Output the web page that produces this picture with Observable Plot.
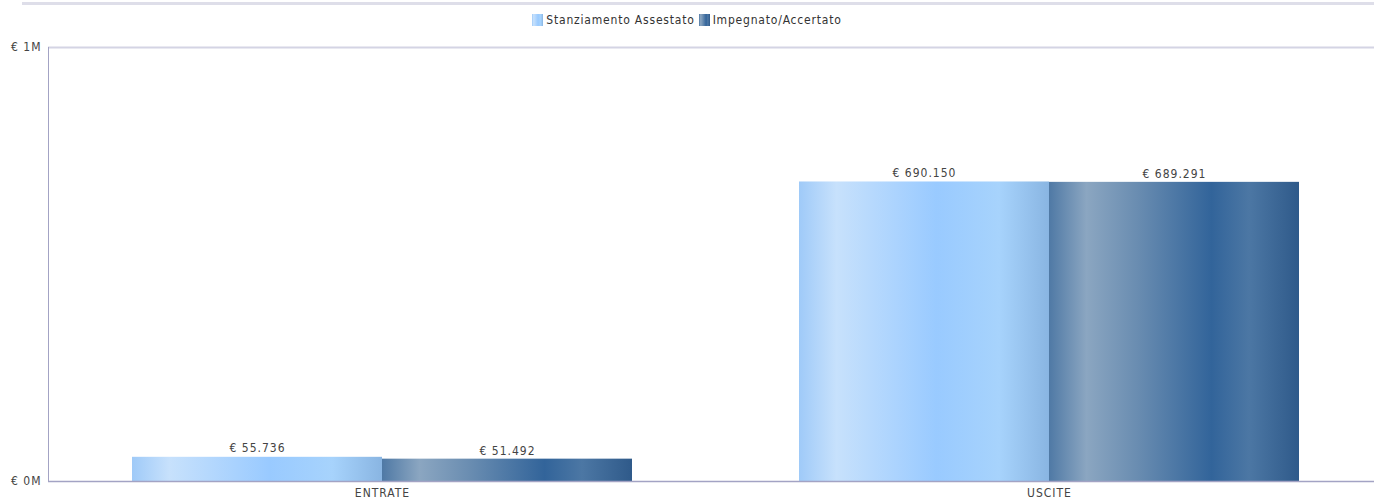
<!DOCTYPE html>
<html><head><meta charset="utf-8">
<script src="https://cdn.jsdelivr.net/npm/d3@7"></script>
<script src="https://cdn.jsdelivr.net/npm/@observablehq/plot@0.6"></script>
<style>
body{margin:0;background:#fff;font-family:"DejaVu Sans Condensed","DejaVu Sans",sans-serif;overflow:hidden;}
#top{height:32px;position:relative;}
#line{position:absolute;left:22px;right:0;top:2px;height:3px;background:#dedee9;}
#legend{position:absolute;top:12px;left:0;right:0;text-align:center;font-size:12px;color:#333;line-height:16px;white-space:nowrap;letter-spacing:0.8px;}
.sw{display:inline-block;width:11px;height:12px;vertical-align:-2px;margin-right:3px;}
.item{margin:0 2px;}
</style></head>
<body>
<div id="top"><div id="line"></div><div id="legend"></div></div>
<div id="chart"></div>
<script>
const categories = ["ENTRATE", "USCITE"];
const series = ["Stanziamento Assestato", "Impegnato/Accertato"];
const stanziamento = [55736, 690150];
const impegnato = [51492, 689291];
const yTicks = [0, 1000000];

const lightStops = [[0, "#9fcaf8"], [0.15, "#c7e1fc"], [0.55, "#99caff"], [0.8, "#a7d3fc"], [1, "#89b5e2"]];
const darkStops = [[0, "#4f79a5"], [0.15, "#8ba6c1"], [0.35, "#6a8db1"], [0.65, "#32649a"], [0.8, "#4c77a4"], [1, "#2f5a8a"]];

const rowsA = categories.map((c, i) => ({category: c, value: stanziamento[i]}));
const rowsB = categories.map((c, i) => ({category: c, value: impegnato[i]}));

const it = d3.formatLocale({decimal: ",", thousands: ".", grouping: [3], currency: ["€ ", ""]});
const fmt = v => "€ " + it.format(",.0f")(v);

const half = 250;
const font = "DejaVu Sans Condensed, DejaVu Sans, sans-serif";

const chart = Plot.plot({
  width: 1374,
  height: 470,
  marginTop: 15,
  marginBottom: 21,
  marginLeft: 48,
  marginRight: 0,
  style: {fontFamily: font, fontSize: "12px", color: "#444", background: "white", overflow: "visible", letterSpacing: "1px"},
  x: {domain: categories, range: [49, 1383], paddingInner: 0.25, paddingOuter: 0.125, label: null},
  y: {domain: [0, 1000000], range: [481 - 32, 47 - 32], label: null},
  marks: [
    Plot.ruleY([1000000], {stroke: "#d4d4e4", strokeWidth: 2}),
    Plot.barY(rowsA, {x: "category", y: "value", fill: "url(#gradLight)", insetRight: half}),
    Plot.barY(rowsB, {x: "category", y: "value", fill: "url(#gradDark)", insetLeft: half}),
    Plot.text(rowsA, {x: "category", y: "value", text: d => fmt(d.value), dx: -half / 2, dy: -9, fill: "#444", fontSize: 12}),
    Plot.text(rowsB, {x: "category", y: "value", text: d => fmt(d.value), dx: half / 2, dy: -8, fill: "#444", fontSize: 12}),
    Plot.ruleY([0], {stroke: "#a3a3c4", strokeWidth: 1.5}),
    Plot.axisY(yTicks, {tickSize: 0, tickPadding: 7, tickFormat: d => "€ " + d / 1000000 + "M", fill: "#444", fontSize: 12, label: null}),
    Plot.axisX({tickSize: 0, tickPadding: 7, fill: "#444", fontSize: 12, label: null}),
    Plot.frame({anchor: "left", stroke: "#a3a3c4"})
  ]
});

const ns = "http://www.w3.org/2000/svg";
const defs = document.createElementNS(ns, "defs");
function addGrad(id, stops) {
  const g = document.createElementNS(ns, "linearGradient");
  g.setAttribute("id", id);
  g.setAttribute("x1", "0"); g.setAttribute("x2", "1");
  g.setAttribute("y1", "0"); g.setAttribute("y2", "0");
  for (const [o, c] of stops) {
    const s = document.createElementNS(ns, "stop");
    s.setAttribute("offset", o);
    s.setAttribute("stop-color", c);
    g.appendChild(s);
  }
  defs.appendChild(g);
}
addGrad("gradLight", lightStops);
addGrad("gradDark", darkStops);
chart.insertBefore(defs, chart.firstChild);
document.getElementById("chart").appendChild(chart);

const css = stops => "linear-gradient(to right," + stops.map(([o, c]) => c + " " + (o * 100) + "%").join(",") + ")";
const legend = document.getElementById("legend");
[lightStops, darkStops].forEach((stops, i) => {
  const span = document.createElement("span");
  span.className = "item";
  const sw = document.createElement("span");
  sw.className = "sw";
  sw.style.background = css(stops);
  span.appendChild(sw);
  span.appendChild(document.createTextNode(series[i]));
  legend.appendChild(span);
});
</script>
</body></html>
